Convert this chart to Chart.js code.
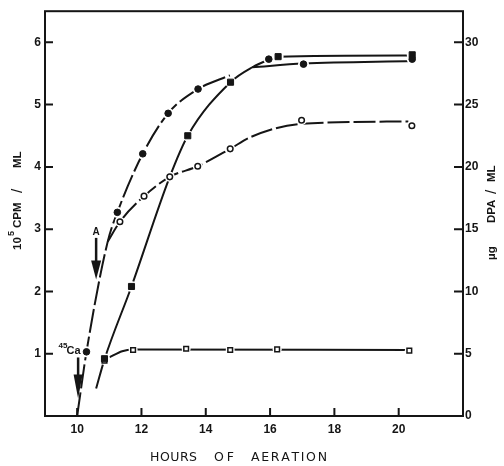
<!DOCTYPE html>
<html>
<head>
<meta charset="utf-8">
<title>Hours of aeration</title>
<script src="https://cdn.jsdelivr.net/npm/chart.js@4.4.1/dist/chart.umd.min.js"></script>
<style>
  html, body { margin: 0; padding: 0; background: #fff; }
  canvas { display: block; }
</style>
</head>
<body>
<canvas id="grafico" width="504" height="466"></canvas>
<script>
// ticks
const xTicks = [10, 12, 14, 16, 18, 20];
const cpmTicks = [1, 2, 3, 4, 5, 6];
const dpaTicks = [0, 5, 10, 15, 20, 25, 30];

// markers (CPM on the left axis, DPA on the right one)
const filledCircleX = [10.29, 11.25, 12.04, 12.83, 13.76, 15.96, 17.04, 20.42];
const filledCircleY = [1.03, 3.27, 4.21, 4.86, 5.25, 5.73, 5.65, 5.73];
const filledSquareX = [10.85, 11.69, 13.44, 14.77, 16.25, 20.42];
const filledSquareY = [0.92, 2.08, 4.50, 5.36, 5.77, 5.80];
const openCircleX = [11.33, 12.08, 12.88, 13.75, 14.76, 16.98, 20.41];
const openCircleY = [15.6, 17.65, 19.2, 20.05, 21.45, 23.75, 23.3];
const openSquareX = [10.85, 11.74, 13.39, 14.76, 16.22, 20.33];
const openSquareY = [4.45, 5.3, 5.4, 5.3, 5.35, 5.25];

// hand drawn curves
const curveAX = [10.0, 10.29, 10.95, 11.25, 12.04, 12.83, 13.76, 14.75];
const curveAY = [0.0, 1.03, 2.8, 3.27, 4.21, 4.86, 5.25, 5.47];
const curveBX = [10.59, 10.85, 11.69, 12.88, 13.44, 14.77, 15.45, 15.96, 16.25, 20.42];
const curveBY = [0.44, 0.91, 2.08, 3.84, 4.50, 5.36, 5.60, 5.72, 5.77, 5.79];
const curveCX = [15.45, 17.04, 20.42];
const curveCY = [5.60, 5.66, 5.70];
const curveDX = [10.95, 11.33, 12.08, 12.88, 13.75, 14.76, 15.4, 16.95, 20.3];
const curveDY = [14.0, 15.6, 17.65, 19.2, 20.05, 21.45, 22.4, 23.45, 23.65];
const curveEX = [11.0, 11.4, 11.74, 20.3];
const curveEY = [4.7, 5.2, 5.33, 5.3];

// arrows (A and 45Ca)
const arrowX = [10.59, 10.03];
const arrowTopY = [2.86, 0.94];
const arrowTipY = [2.19, 0.28];

const tinta = "#151515";
const fuente = "'Liberation Sans', Arial, sans-serif";

const pts = (xs, ys) => xs.map((x, i) => ({ x: x, y: ys[i] }));

function curva(xs, ys, eje, dash) {
  return {
    data: pts(xs, ys),
    yAxisID: eje,
    borderColor: tinta,
    borderWidth: 2,
    borderDash: dash,
    pointRadius: 0,
    fill: false,
    cubicInterpolationMode: "monotone",
    order: 3,
  };
}

function halo(xs, ys, eje, radio) {
  return {
    data: pts(xs, ys),
    yAxisID: eje,
    showLine: false,
    pointStyle: "circle",
    pointRadius: radio,
    pointBackgroundColor: "#fff",
    pointBorderWidth: 0,
    order: 2,
  };
}

function marcador(xs, ys, eje, estilo, radio, relleno, borde) {
  return {
    data: pts(xs, ys),
    yAxisID: eje,
    showLine: false,
    pointStyle: estilo,
    pointRadius: radio,
    pointBackgroundColor: relleno,
    pointBorderColor: tinta,
    pointBorderWidth: borde,
    order: 1,
  };
}

function dibujarTexto(ctx, partes) {
  partes.forEach((p) => {
    ctx.font = p.font;
    ctx.fillText(p.t, p.x, p.y);
  });
}

function palabraEspaciada(ctx, palabra, x, y, ancho) {
  const anchos = palabra.split("").map((c) => ctx.measureText(c).width);
  const total = anchos.reduce((a, b) => a + b, 0);
  const extra = palabra.length > 1 ? (ancho - total) / (palabra.length - 1) : 0;
  let px = x;
  palabra.split("").forEach((c, i) => {
    ctx.fillText(c, px, y);
    px += anchos[i] + extra;
  });
}

const adornos = {
  id: "adornos",
  afterDraw(chart) {
    const { ctx, chartArea: a, scales } = chart;
    const sx = scales.x, sy = scales.y, sy2 = scales.y2;
    ctx.save();
    ctx.strokeStyle = tinta;
    ctx.fillStyle = tinta;
    ctx.lineWidth = 2;
    ctx.strokeRect(a.left, a.top, a.right - a.left, a.bottom - a.top);

    // inward ticks
    ctx.beginPath();
    sx.ticks.forEach((t) => {
      const px = sx.getPixelForValue(t.value);
      ctx.moveTo(px, a.bottom); ctx.lineTo(px, a.bottom - 8);
    });
    sy.ticks.forEach((t) => {
      const py = sy.getPixelForValue(t.value);
      ctx.moveTo(a.left, py); ctx.lineTo(a.left + 8, py);
    });
    sy2.ticks.forEach((t) => {
      const py = sy2.getPixelForValue(t.value);
      ctx.moveTo(a.right, py); ctx.lineTo(a.right - 9, py);
    });
    ctx.stroke();

    // arrows
    arrowX.forEach((xv, i) => {
      const px = sx.getPixelForValue(xv);
      const top = sy.getPixelForValue(arrowTopY[i]);
      const tip = sy.getPixelForValue(arrowTipY[i]);
      const largo = i === 0 ? 19 : 24;
      const medio = i === 0 ? 5 : 4.5;
      ctx.lineWidth = 2.5;
      ctx.beginPath();
      ctx.moveTo(px, top); ctx.lineTo(px, tip - largo + 2);
      ctx.stroke();
      ctx.beginPath();
      ctx.moveTo(px - medio, tip - largo);
      ctx.lineTo(px + medio, tip - largo);
      ctx.lineTo(px, tip);
      ctx.closePath();
      ctx.fill();
    });

    // arrow labels
    ctx.textAlign = "center";
    ctx.textBaseline = "middle";
    ctx.font = "bold 10px " + fuente;
    ctx.fillText("A", sx.getPixelForValue(10.59), sy.getPixelForValue(2.95));
    ctx.textAlign = "left";
    ctx.textBaseline = "alphabetic";
    const caX = sx.getPixelForValue(9.67), caY = sy.getPixelForValue(0.99);
    ctx.font = "bold 11px " + fuente;
    ctx.fillText("Ca", caX, caY);
    ctx.font = "bold 8px " + fuente;
    ctx.fillText("45", caX - 8, caY - 6);

    // left title
    ctx.save();
    ctx.translate(21, 250);
    ctx.rotate(-Math.PI / 2);
    const b = "bold 11.5px " + fuente;
    dibujarTexto(ctx, [
      { t: "10", x: 0, y: 0, font: b },
      { t: "5", x: 14, y: -7, font: "bold 9px " + fuente },
      { t: "CPM", x: 22, y: 0, font: b },
      { t: "/", x: 57, y: 1, font: "15px " + fuente },
      { t: "ML", x: 82, y: 0, font: b },
    ]);
    ctx.restore();

    // right title
    ctx.save();
    ctx.translate(495, 260);
    ctx.rotate(-Math.PI / 2);
    dibujarTexto(ctx, [
      { t: "\u00b5g", x: 0, y: 0, font: b },
      { t: "DPA", x: 37, y: 0, font: b },
      { t: "/", x: 66, y: 1, font: "15px " + fuente },
      { t: "ML", x: 78, y: 0, font: b },
    ]);
    ctx.restore();

    // bottom title
    ctx.font = "12.5px 'DejaVu Sans', sans-serif";
    palabraEspaciada(ctx, "HOURS", a.left + 105, 460.5, 47);
    palabraEspaciada(ctx, "OF", a.left + 169, 460.5, 20);
    palabraEspaciada(ctx, "AERATION", a.left + 206, 460.5, 76);
    ctx.restore();
  },
};

const fijar = (valores) => (s) => { s.ticks = valores.map((v) => ({ value: v })); };
const etiquetas = { color: tinta, font: { family: fuente, size: 12, weight: "bold" } };

new Chart(document.getElementById("grafico"), {
  type: "line",
  data: {
    datasets: [
      curva(curveAX, curveAY, "y", [24, 4]),
      curva(curveBX, curveBY, "y", []),
      curva(curveCX, curveCY, "y", []),
      curva(curveDX, curveDY, "y2", [22, 4]),
      curva(curveEX, curveEY, "y2", []),
      halo(filledCircleX, filledCircleY, "y", 5.5),
      halo(filledSquareX, filledSquareY, "y", 5.5),
      halo(openCircleX, openCircleY, "y2", 5),
      halo(openSquareX, openSquareY, "y2", 4.5),
      marcador(filledCircleX, filledCircleY, "y", "circle", 3.3, tinta, 1),
      marcador(filledSquareX, filledSquareY, "y", "rect", 4.3, tinta, 1),
      marcador(openCircleX, openCircleY, "y2", "circle", 2.8, "#fff", 1.5),
      marcador(openSquareX, openSquareY, "y2", "rect", 3.3, "#fff", 1.5),
    ],
  },
  options: {
    responsive: false,
    animation: false,
    events: [],
    layout: { padding: { top: 8 } },
    plugins: { legend: { display: false }, tooltip: { enabled: false } },
    scales: {
      x: {
        type: "linear",
        min: 9,
        max: 22,
        afterBuildTicks: fijar(xTicks),
        afterFit: (s) => { s.height = 50; },
        grid: { display: false, drawTicks: false },
        border: { display: false },
        ticks: Object.assign({ padding: 6 }, etiquetas),
      },
      y: {
        position: "left",
        min: 0,
        max: 6.5,
        afterBuildTicks: fijar(cpmTicks),
        afterFit: (s) => { s.width = 45; },
        grid: { display: false, drawTicks: false },
        border: { display: false },
        ticks: Object.assign({ padding: 4 }, etiquetas),
      },
      y2: {
        position: "right",
        min: 0,
        max: 32.5,
        afterBuildTicks: fijar(dpaTicks),
        afterFit: (s) => { s.width = 41; },
        grid: { display: false, drawTicks: false },
        border: { display: false },
        ticks: Object.assign({ padding: 2 }, etiquetas),
      },
    },
  },
  plugins: [adornos],
});
</script>
</body>
</html>
